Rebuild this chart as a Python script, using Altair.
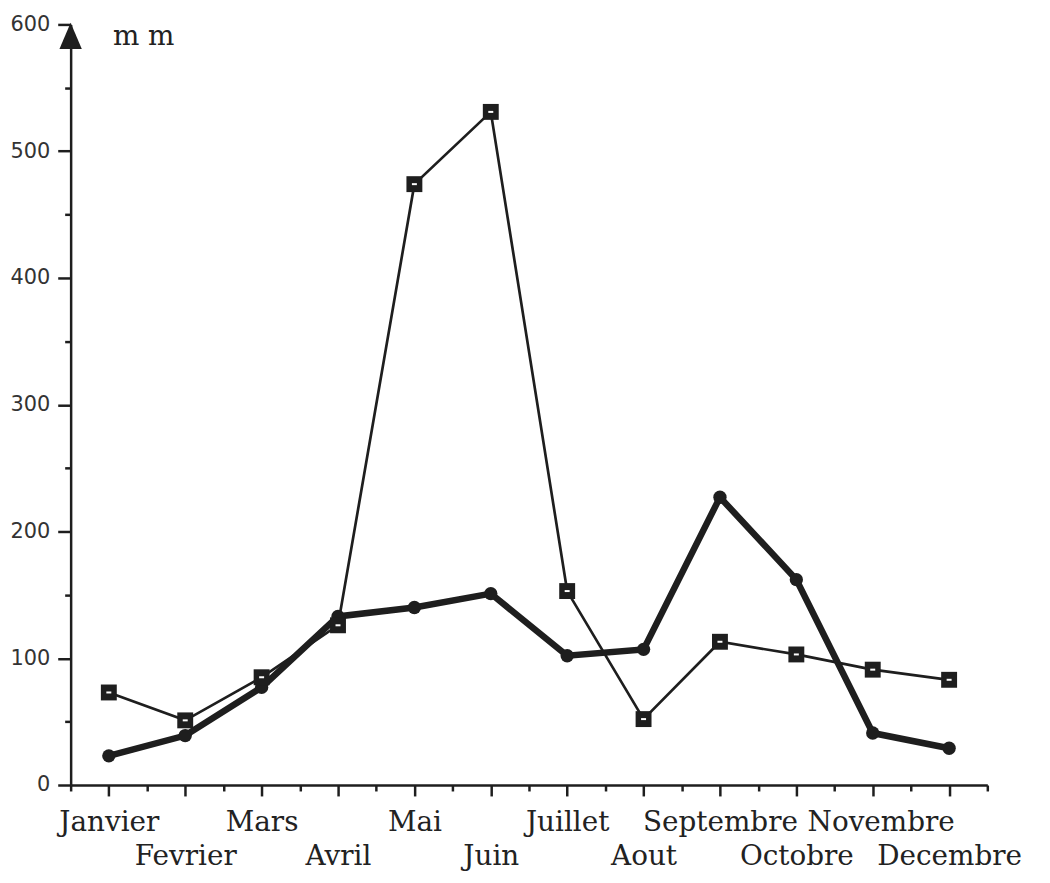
import altair as alt
import pandas as pd

months = ["Janvier", "Fevrier", "Mars", "Avril", "Mai", "Juin", "Juillet",
          "Aout", "Septembre", "Octobre", "Novembre", "Decembre"]
month_num = list(range(1, 13))
rain_squares = [73, 51, 85, 126, 474, 531, 153, 52, 113, 103, 91, 83]
rain_circles = [23, 39, 77, 133, 140, 151, 102, 107, 227, 162, 41, 29]

arrow_m = [0.5]
arrow_v = [591]

df = pd.DataFrame({"m": month_num, "name": months, "sq": rain_squares, "ci": rain_circles})
arrow_df = pd.DataFrame({"m": arrow_m, "v": arrow_v})

INK = "#1e1e1e"
months_js = "[" + ",".join("'" + m + "'" for m in months) + "]"

x_axis = alt.Axis(
    values=[0.5 + 0.5 * i for i in range(25)],
    labelExpr="datum.value % 1 == 0 ? " + months_js + "[datum.value - 1] : ''",
    tickSize={"condition": {"test": "datum.value % 1 == 0", "value": 11}, "value": 6},
    labelPadding={"condition": {"test": "datum.value % 2 == 0", "value": 47}, "value": 13},
    labelOffset={"condition": {"test": "datum.value == 11", "value": 8}, "value": 0},
    labelFont="DejaVu Serif", labelFontSize=28, labelColor="#222222",
    labelOverlap=False, labelBound=False, labelFlush=False,
    domainColor=INK, domainWidth=2.5, tickColor=INK, tickWidth=2.5,
    grid=False, title=None,
)

def x_enc():
    return alt.X("m:Q", scale=alt.Scale(domain=[0.5, 12.5], nice=False, zero=False), axis=x_axis)

y_axis = alt.Axis(
    values=list(range(0, 601, 50)),
    labelExpr="datum.value % 100 == 0 ? datum.label : ''",
    tickSize={"condition": {"test": "datum.value % 100 == 0", "value": 13}, "value": 6},
    labelPadding=8,
    labelFont="DejaVu Sans", labelFontSize=21, labelColor="#333333",
    domainColor=INK, domainWidth=2.5, tickColor=INK, tickWidth=2.5,
    grid=False,
    title="m m", titleAngle=0, titleX=42, titleY=12, titleAlign="left",
    titleBaseline="middle", titleFont="DejaVu Serif", titleFontSize=28,
    titleFontWeight="normal", titleColor="#222222",
)

def y_enc(field):
    return alt.Y(field + ":Q", scale=alt.Scale(domain=[0, 600], nice=False), axis=y_axis)

base = alt.Chart(df)

thin_line = base.mark_line(color=INK, strokeWidth=2.7).encode(x=x_enc(), y=y_enc("sq"))
thick_line = base.mark_line(color=INK, strokeWidth=6.5).encode(x=x_enc(), y=y_enc("ci"))
circles = base.mark_point(shape="circle", filled=True, color=INK, size=180, opacity=1).encode(x=x_enc(), y=y_enc("ci"))
squares = base.mark_point(shape="square", filled=True, color=INK, size=256, opacity=1).encode(x=x_enc(), y=y_enc("sq"))
sq_holes = base.mark_point(shape="M-1,-0.4L1,-0.4L1,0.4L-1,0.4Z", filled=True, color="white", size=25, opacity=1).encode(x=x_enc(), y=y_enc("sq"))
arrow = alt.Chart(arrow_df).mark_point(
    shape="M0,-1L-0.85,1L0.85,1Z", filled=True, color=INK, size=700, opacity=1
).encode(x=x_enc(), y=y_enc("v"))

chart = alt.layer(thin_line, thick_line, circles, squares, sq_holes, arrow).properties(
    width=922, height=765,
    autosize=alt.AutoSizeParams(type="none"),
    padding={"left": 63, "top": 14, "right": 55, "bottom": 90},
    background="white",
).configure_view(stroke=None)

chart.save("out.html", embed_options={"renderer": "svg", "actions": False})
